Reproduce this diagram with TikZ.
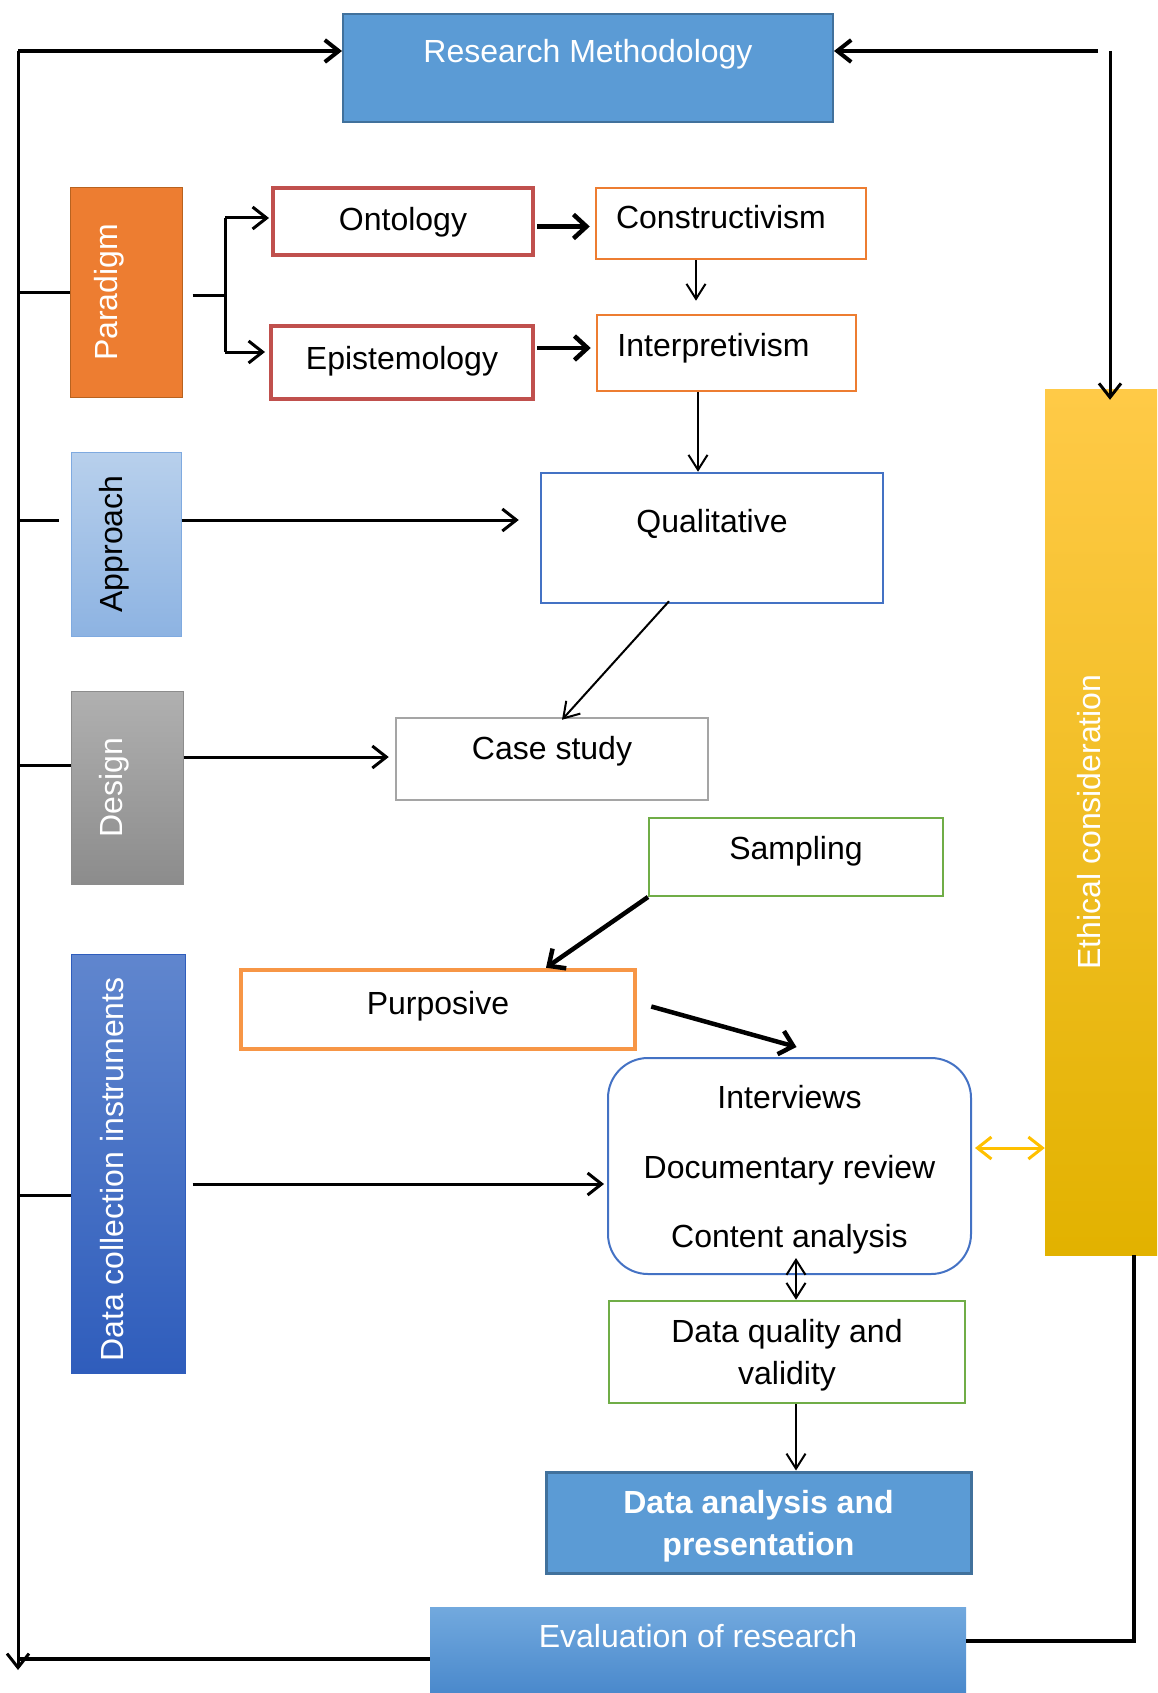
\documentclass[tikz,border=0pt]{standalone}
\usepackage{graphicx}
\usepackage{fontspec}
\setmainfont{Liberation Sans}
\usepackage{tikz}
\usetikzlibrary{arrows.meta, positioning, calc}

\definecolor{rmblue}{HTML}{5B9BD5}
\definecolor{rmedge}{HTML}{41719C}
\definecolor{paraorange}{HTML}{ED7D31}
\definecolor{paraedge}{HTML}{B8621F}
\definecolor{ontored}{HTML}{C0504D}
\definecolor{qualblue}{HTML}{4472C4}
\definecolor{casegray}{HTML}{A5A5A5}
\definecolor{sampgreen}{HTML}{70AD47}
\definecolor{purporange}{HTML}{F79646}
\definecolor{apprtop}{HTML}{B8D0EC}
\definecolor{apprbot}{HTML}{8DB3E2}
\definecolor{apredge}{HTML}{7FAAE0}
\definecolor{destop}{HTML}{B0B0B0}
\definecolor{desbot}{HTML}{8C8C8C}
\definecolor{dcitop}{HTML}{6086CE}
\definecolor{dcibot}{HTML}{2F5DBC}
\definecolor{evaltop}{HTML}{72A9DE}
\definecolor{evalbot}{HTML}{4A89CC}
\definecolor{ethtop}{HTML}{FFCA47}
\definecolor{ethgold}{HTML}{FFC000}
\definecolor{ethbot}{HTML}{E2B200}

% rotated label, pushed left by the trailing space
\newcommand{\sidetext}[2]{\rotatebox{90}{\strut #2}\hspace*{#1}}

\begin{document}
\begin{tikzpicture}[x=1pt, y=-1pt,
			every node/.style={font=\fontsize{32}{39}\selectfont, inner sep=0pt},
			lift/.style={text height=22pt, text depth=#1},
			box/.style={draw, line width=2.5pt},
			catbox/.style={draw=#1, line width=1pt},
			link/.style={line width=3pt},
			frame/.style={line width=4pt},
			arrow/.style={link, -{Straight Barb[length=14pt,width=22pt]}},
			slim/.style={line width=2pt, -{Straight Barb[length=15pt,width=19pt]}},
			heavy/.style={line width=4.5pt, -{Straight Barb[length=13pt,width=24pt]}}
			]
			
			\useasboundingbox (0,0) rectangle (1157,1693);
			
			% Top
			\node[box, draw=rmedge, line width=2pt, fill=rmblue, text=white, minimum width=490pt, minimum height=108pt, lift=32pt] (rm) at (588,68) {Research Methodology};
			
			% Categories
			\node[catbox=paraedge, fill=paraorange, text=white, minimum width=112pt, minimum height=209pt] (para) at (126,292.5) {\sidetext{32pt}{Paradigm}};
			\node[catbox=apredge, top color=apprtop, bottom color=apprbot, minimum width=110pt, minimum height=184pt] (appr) at (126,544) {\sidetext{23pt}{Approach}};
			\node[catbox=desbot, top color=destop, bottom color=desbot, text=white, minimum width=112pt, minimum height=193pt] (des) at (127,787.5) {\sidetext{25pt}{Design}};
			\node[catbox=dcibot, top color=dcitop, bottom color=dcibot, text=white, minimum width=114pt, minimum height=419pt] (dci) at (128,1163.5) {\sidetext{25pt}{Data collection instruments\hspace*{12pt}}};
			
			% Paradigm
			\node[box, draw=ontored, line width=4pt, minimum width=260pt, minimum height=67pt, lift=4pt] (onto) at (403,221.5) {Ontology};
			\node[box, draw=ontored, line width=4pt, minimum width=262pt, minimum height=73pt, lift=8pt] (epis) at (402,362.5) {Epistemology};
			\node[box, draw=paraorange, minimum width=270pt, minimum height=71pt, lift=11pt] (constr) at (731,223.5) {Constructivism\hspace*{20pt}};
			\node[box, draw=paraorange, minimum width=259pt, minimum height=76pt, lift=16pt] (interp) at (726.5,353) {Interpretivism\hspace*{26pt}};
			
			% Approach and design
			\node[box, draw=qualblue, minimum width=342pt, minimum height=130pt, lift=34pt] (qual) at (712,538) {Qualitative};
			\node[box, draw=casegray, minimum width=312pt, minimum height=82pt, lift=22pt] (case) at (552,759) {Case study};
			
			% Sampling
			\node[box, draw=sampgreen, line width=2pt, minimum width=294pt, minimum height=78pt, lift=18pt] (samp) at (796,857) {Sampling};
			\node[box, draw=purporange, line width=4.5pt, minimum width=394pt, minimum height=79pt, lift=13pt] (purp) at (438,1009.5) {Purposive};
			
			% Instruments
			\node[box, draw=qualblue, line width=2pt, rounded corners=40pt, minimum width=363pt, minimum height=216pt, align=center, font=\fontsize{32}{69.5}\selectfont] (instr) at (789.5,1166) {\rule{0pt}{31pt}Interviews\\Documentary review\\Content analysis};
			\node[box, draw=sampgreen, minimum width=356pt, minimum height=102pt, align=center, font=\fontsize{32}{42}\selectfont] (dq) at (787,1352) {\rule{0pt}{29pt}Data quality and\\validity};
			\node[box, draw=rmedge, line width=3pt, fill=rmblue, text=white, minimum width=425pt, minimum height=101pt, align=center, font=\fontsize{32}{42}\selectfont\bfseries] (da) at (758.5,1522.5) {\rule{0pt}{31pt}Data analysis and\\presentation};
			
			% Bottom
			\node[top color=evaltop, bottom color=evalbot, text=white, minimum width=536pt, minimum height=86pt, lift=28pt] (eval) at (698,1650) {Evaluation of research};
			
			% Ethics
			\node[top color=ethtop, middle color=ethgold, bottom color=ethbot, text=white, minimum width=112pt, minimum height=866pt] (eth) at (1101,822) {\sidetext{17pt}{Ethical consideration}};
			
			% Frame
			\coordinate (ltop) at (18,51);
			\coordinate (lbot) at (18,1670);
			\coordinate (lev) at (18,1659);
			\coordinate (rtop) at (1098,51);
			\coordinate (rdown) at (1110,51);
			\coordinate (rbot) at (1134,1641);
			\draw[arrow, frame] (ltop) -- (ltop -| rm.west);
			\draw[arrow] (ltop) -- (lbot);
			\draw[arrow, frame] (rtop) -- (rtop -| rm.east);
			\draw[arrow] (rdown) -- ($(rdown |- eth.north)+(0,11)$);
			\draw[frame] (eth.south -| rbot) -- (rbot) -- (rbot -| eval.east);
			\draw[frame] (eval.west |- lev) -- (lev);
			
			% Stubs
			\coordinate (apin) at ($(appr.west)+(0,-24)$);
			\coordinate (desin) at ($(des.west)+(0,-22)$);
			\coordinate (dciin) at ($(dci.west)+(0,32)$);
			\draw[link] (ltop |- para.west) -- (para.west);
			\draw[link, shorten >=12pt] (apin -| ltop) -- (apin);
			\draw[link] (desin -| ltop) -- (desin);
			\draw[link] (dciin -| ltop) -- (dciin);
			
			% Paradigm fork
			\coordinate (fork) at (225,296);
			\coordinate (ontoin) at (225,218);
			\coordinate (episin) at (225,352);
			\draw[link, shorten <=10pt] (fork -| para.east) -- (fork);
			\draw[link] (ontoin) -- (episin);
			\draw[arrow, shorten >=2pt] (ontoin) -- (ontoin -| onto.west);
			\draw[arrow, shorten >=4pt] (episin) -- (episin -| epis.west);
			\draw[heavy, shorten <=2pt, shorten >=5pt] ($(onto.east)+(0,5)$) -- ($(constr.west)+(0,3)$);
			\draw[heavy, shorten <=2pt, shorten >=5pt] ($(epis.east)+(0,-14.5)$) -- ($(interp.west)+(0,-5)$);
			\draw[slim, shorten >=13pt] ($(constr.south)+(-35,0)$) -- ($(interp.north)+(-30.5,0)$);
			\draw[slim] ($(interp.south)+(-28.5,0)$) -- ($(qual.north)+(-14,0)$);
			
			% Approach, design
			\draw[arrow, shorten >=21pt] ($(appr.east)+(0,-24)$) -- ($(qual.west)+(0,-18)$);
			\draw[slim] ($(qual.south)+(-43,-3)$) -- ($(case.north)+(10,3)$);
			\draw[arrow, shorten >=6pt] ($(des.east)+(0,-30.5)$) -- ($(case.west)+(0,-2)$);
			
			% Sampling, instruments
			\draw[heavy] (samp.south west) -- ($(purp.north)+(108,0)$);
			\draw[heavy] ($(purp.east)+(14,-3)$) -- ($(instr.north)+(7,-10)$);
			\draw[arrow, shorten <=7pt, shorten >=3pt] ($(dci.east)+(0,20.5)$) -- ($(instr.west)+(0,18)$);
			\draw[link, ethgold, {Straight Barb[length=14pt,width=22pt]}-{Straight Barb[length=14pt,width=22pt]}, shorten <=3pt] ($(instr.east)+(0,-18)$) -- ($(eth.west)+(0,326)$);
			\draw[slim, {Straight Barb[length=15pt,width=19pt]}-{Straight Barb[length=15pt,width=19pt]}] ($(dq.north)+(9,0)$) -- ($(instr.south)+(6.5,-17)$);
			\draw[slim] ($(dq.south)+(9,0)$) -- ($(da.north)+(37.5,0)$);
			
		\end{tikzpicture}
\end{document}
